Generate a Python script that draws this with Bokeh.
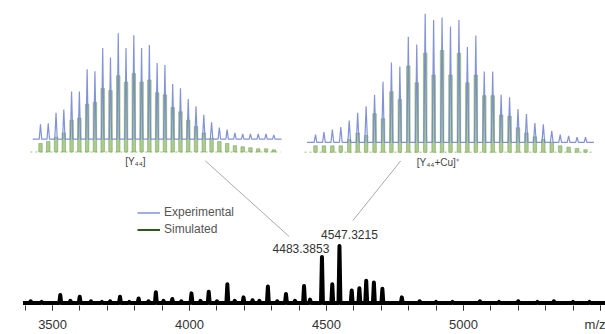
from bokeh.plotting import figure
from bokeh.models import Range1d, FixedTicker, Legend, LegendItem
from bokeh.core.properties import value
from bokeh.embed import file_html
from bokeh.resources import INLINE

FONT = "Liberation Sans"
NAN = float("nan")

# ---------------- data ----------------
# main spectrum: labelled / visible peaks (m/z, relative intensity)
main_mz = [3528, 3599, 3746, 3814, 3877, 3937, 4007, 4070, 4138, 4197, 4286, 4352,
           4418, 4483.3853, 4521, 4547.3215, 4592, 4620, 4645, 4673, 4704, 4775]
main_int = [14, 11, 11, 8, 19, 7, 17, 20, 33, 10, 29, 16,
            30, 81, 33, 100, 22, 26, 39, 36, 25, 10]
# small baseline bumps
noise_mz = [3420, 3460, 3565, 3640, 3680, 3710, 3780, 3850, 3905, 3970, 4040, 4100,
            4165, 4230, 4255, 4320, 4385, 4440, 4840, 4900, 4960, 5060, 5130, 5200,
            5270, 5330, 5400, 5460]
noise_int = [3, 2, 4, 3, 2, 3, 2, 3, 4, 3, 4, 3, 4, 5, 4, 3, 4, 6, 3, 2, 2, 3, 2, 3,
             2, 3, 2, 2]
spec_start, spec_end = 3392, 5520

labels_mz = [4483.3853, 4547.3215]
labels_txt = ["4483.3853", "4547.3215"]

# inset 1: [Y44]
left_mz = [4468.4, 4469.4, 4470.4, 4471.4, 4472.4, 4473.4, 4474.4, 4475.4, 4476.4,
           4477.4, 4478.4, 4479.4, 4480.4, 4481.4, 4482.4, 4483.4, 4484.4, 4485.4,
           4486.4, 4487.4, 4488.4, 4489.4, 4490.4, 4491.4, 4492.4, 4493.4, 4494.4,
           4495.4, 4496.4, 4497.4, 4498.4]
left_exp = [14, 15, 25, 28, 45, 45, 66, 64, 86, 77, 100, 86, 98, 86, 89, 72, 70, 52,
            48, 38, 31, 23, 16, 11, 9, 6, 5, 5, 5, 5, 4]
left_sim = [8, 10, 14, 18, 30, 32, 45, 47, 60, 58, 72, 66, 74, 66, 68, 56, 54, 42,
            38, 30, 24, 18, 13, 10, 8, 6, 5, 4, 3, 3, 2]

# inset 2: [Y44+Cu]+
right_mz = [4532.3, 4533.3, 4534.3, 4535.3, 4536.3, 4537.3, 4538.3, 4539.3, 4540.3,
            4541.3, 4542.3, 4543.3, 4544.3, 4545.3, 4546.3, 4547.3, 4548.3, 4549.3,
            4550.3, 4551.3, 4552.3, 4553.3, 4554.3, 4555.3, 4556.3, 4557.3, 4558.3,
            4559.3, 4560.3, 4561.3, 4562.3, 4563.3, 4564.3]
right_exp = [6, 8, 10, 12, 17, 23, 28, 37, 47, 62, 59, 82, 76, 100, 95, 97, 90, 95,
             74, 83, 55, 55, 37, 35, 26, 22, 15, 14, 9, 6, 5, 4, 4]
right_sim = [5, 5, 5, 5, 10, 15, 13, 30, 26, 47, 41, 67, 54, 77, 60, 79, 60, 77, 54,
             60, 44, 44, 29, 28, 19, 15, 12, 10, 8, 5, 4, 3, 2]

inset_titles = ["[Y\u2084\u2084]", "[Y\u2084\u2084+Cu]\u207a"]

BLUE = "#7487d2"
GREEN = "#a3c683"
GREEN_EDGE = "#6f9851"

# ---------------- figure ----------------
p = figure(width=605, height=334, output_backend="svg", toolbar_location=None,
           x_range=Range1d(3309.8, 5518.6), y_range=Range1d(-4.3, 531.4),
           y_axis_location=None, x_axis_location="below",
           min_border_left=0, min_border_right=0, min_border_top=0, min_border_bottom=0)
p.extra_x_ranges = {"L": Range1d(4463.26, 4541.05), "R": Range1d(4494.97, 4566.67)}
p.extra_y_ranges = {"L": Range1d(-144.9, 143.0), "R": Range1d(-119.0, 117.9)}
p.outline_line_color = None
p.xgrid.visible = False
p.ygrid.visible = False
p.background_fill_color = "white"
p.border_fill_color = "white"

ax = p.xaxis[0]
ax.ticker = FixedTicker(ticks=[3500, 4000, 4500, 5000, 5500],
                        minor_ticks=list(range(3400, 5600, 100)))
ax.major_label_overrides = {5500: "m/z"}
ax.axis_line_color = None
ax.major_tick_out = 5
ax.major_tick_in = 0
ax.minor_tick_out = 5
ax.minor_tick_in = 0
ax.major_tick_line_color = "#333333"
ax.minor_tick_line_color = "#333333"
ax.major_label_text_font = FONT
ax.major_label_text_font_size = "13px"
ax.major_label_text_color = "#333333"
ax.major_label_standoff = 6

# ---------------- insets ----------------
def spikes(xs, hs, offset, half):
    vx, vy = [xs[0] - 1.0], [offset]
    for x, h in zip(xs, hs):
        vx += [x - half, x, x + half]
        vy += [offset, offset + h, offset]
    vx.append(xs[-1] + 1.0)
    vy.append(offset)
    return vx, vy

for name, xs, ex, sm, off, w in [("L", left_mz, left_exp, left_sim, 12.1, 0.45),
                                 ("R", right_mz, right_exp, right_sim, 7.7, 0.42)]:
    p.line(x=[xs[0] - 1.3, xs[-1] + 0.9], y=[0, 0], x_range_name=name, y_range_name=name,
           line_color="#b9d6a0", line_width=1.5, line_dash="2 3")
    p.vbar(x=xs, top=sm, bottom=0, width=w, x_range_name=name, y_range_name=name,
           fill_color=GREEN, line_color=GREEN_EDGE, line_width=0.5, fill_alpha=0.9)
    vx, vy = spikes(xs, ex, off, 0.16)
    p.line(x=vx, y=vy, x_range_name=name, y_range_name=name,
           line_color=BLUE, line_width=1.2, line_alpha=0.9)

p.text(x=[4480.6], y=[0], text=[inset_titles[0]], x_range_name="L", y_range_name="L",
       y_offset=10, text_align="center", text_baseline="middle",
       text_font=value(FONT), text_font_size="10px", text_color="#444444")
p.text(x=[4546.8], y=[0], text=[inset_titles[1]], x_range_name="R", y_range_name="R",
       y_offset=10, text_align="center", text_baseline="middle",
       text_font=value(FONT), text_font_size="10px", text_color="#444444")

# ---------------- connectors ----------------
def to_main(xi, yi, xr, yr):
    fx = (xi - xr.start) / (xr.end - xr.start)
    fy = (yi - yr.start) / (yr.end - yr.start)
    return (p.x_range.start + fx * (p.x_range.end - p.x_range.start),
            p.y_range.start + fy * (p.y_range.end - p.y_range.start))

s1 = to_main(4489.6, -8.4, p.extra_x_ranges["L"], p.extra_y_ranges["L"])
s2 = to_main(4542.4, -6.7, p.extra_x_ranges["R"], p.extra_y_ranges["R"])
e1 = (labels_mz[0] - 120, main_int[13] + 36)
e2 = (labels_mz[1] + 49, main_int[15] + 45)
p.segment(x0=[s1[0], s2[0]], y0=[s1[1], s2[1]], x1=[e1[0], e2[0]], y1=[e1[1], e2[1]],
          line_color="#aaaaaa", line_width=1)

# ---------------- main spectrum ----------------
pk = sorted(zip(main_mz + noise_mz, main_int + noise_int))
sx, sy = [spec_start], [0]
for m, h in pk:
    sx += [m - 3.5, m, m + 3.5]
    sy += [0, h, 0]
sx.append(spec_end)
sy.append(0)
p.line(x=sx, y=sy, line_color="black", line_width=4, line_join="round")

p.text(x=[labels_mz[0]], y=[main_int[13]], text=[labels_txt[0]], x_offset=-21, y_offset=-4,
       text_align="center", text_baseline="bottom", text_font=value(FONT),
       text_font_size="12px", text_color="#333333")
p.text(x=[labels_mz[1]], y=[main_int[15]], text=[labels_txt[1]], x_offset=10, y_offset=-7,
       text_align="center", text_baseline="bottom", text_font=value(FONT),
       text_font_size="12px", text_color="#333333")

# ---------------- legend ----------------
leg_exp = p.line(x=[NAN], y=[NAN], line_color="#7d93e0", line_width=1.5)
leg_sim = p.line(x=[NAN], y=[NAN], line_color="#2d5a1a", line_width=2)
legend = Legend(items=[LegendItem(label="Experimental", renderers=[leg_exp], index=0),
                       LegendItem(label="Simulated", renderers=[leg_sim], index=0)],
                location=(137, 68.5), padding=0, margin=0, spacing=2,
                glyph_width=23, glyph_height=15, label_height=15, label_standoff=4,
                label_text_font=FONT, label_text_font_size="12px",
                label_text_color="#555555", border_line_color=None,
                background_fill_alpha=0)
p.add_layout(legend)

open("out.html", "w").write(file_html(p, INLINE))
